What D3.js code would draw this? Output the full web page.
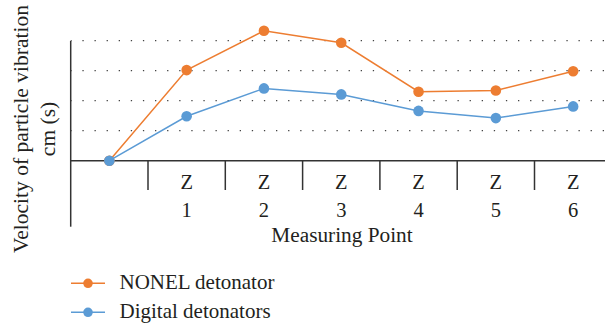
<!DOCTYPE html>
<html><head><meta charset="utf-8">
<script src="https://cdn.jsdelivr.net/npm/d3@7"></script>
<style>body{margin:0;background:#fff}svg{display:block}text{font-family:"Liberation Serif","DejaVu Serif",serif;fill:#231f20}</style>
</head><body><div id="c"></div>
<script>
const categories = ["", "1", "2", "3", "4", "5", "6"];
const catPrefix = "Z";
const nonel = [0, 3.02, 4.33, 3.93, 2.3, 2.34, 2.98];
const digital = [0, 1.48, 2.41, 2.21, 1.66, 1.42, 1.81];
const gridTicks = [1, 2, 3, 4];
const seriesNames = ["NONEL detonator", "Digital detonators"];
const colors = ["#ED7D31", "#5B9BD5"];

const W = 605, H = 323;
const svg = d3.select("#c").append("svg").attr("width", W).attr("height", H);
const x = d3.scaleBand().domain(categories).range([70.7, 70.7 + 7 * 77.3]).padding(0);
const y = d3.scaleLinear().domain([0, 4]).range([160.7, 40.7]);
const cx = c => x(c) + x.bandwidth() / 2;

// gridlines
svg.append("g").selectAll("line").data(gridTicks).join("line")
  .attr("x1", 71).attr("x2", W).attr("y1", d => y(d)).attr("y2", d => y(d))
  .attr("stroke", "#444").attr("stroke-width", 1.3)
  .attr("stroke-dasharray", "1.3,10.8").attr("stroke-dashoffset", -11.4);

// baseline
svg.append("line").attr("x1", 70.7).attr("x2", W).attr("y1", y(0)).attr("y2", y(0))
  .attr("stroke", "#333").attr("stroke-width", 1.5);
// y axis
svg.append("line").attr("x1", 70.7).attr("x2", 70.7).attr("y1", y(4)).attr("y2", 226.7)
  .attr("stroke", "#333").attr("stroke-width", 1.5);
// dividers
svg.append("g").selectAll("line").data(categories.slice(1)).join("line")
  .attr("x1", d => x(d)).attr("x2", d => x(d)).attr("y1", y(0)).attr("y2", 190)
  .attr("stroke", "#333").attr("stroke-width", 1.5);
// category labels
const lab = svg.append("g").selectAll("g").data(categories.slice(1)).join("g");
lab.append("text").attr("x", cx).attr("y", 189.3).attr("text-anchor", "middle")
  .attr("font-size", 20.5).text(catPrefix);
lab.append("text").attr("x", cx).attr("y", 217).attr("text-anchor", "middle")
  .attr("font-size", 20.5).text(d => d);

svg.append("text").attr("x", 342).attr("y", 242).attr("text-anchor", "middle")
  .attr("font-size", 21.3).text("Measuring Point");

const yl = svg.append("text").attr("transform", "translate(0,129) rotate(-90)")
  .attr("text-anchor", "middle").attr("font-size", 21.5);
yl.append("tspan").attr("x", 0).attr("y", 28).text("Velocity of particle vibration");
yl.append("tspan").attr("x", 0).attr("y", 54.5).text("cm (s)");

const line = d3.line().x((d, i) => cx(categories[i])).y(d => y(d));
[nonel, digital].forEach((s, k) => {
  svg.append("path").datum(s).attr("d", line).attr("fill", "none")
    .attr("stroke", colors[k]).attr("stroke-width", 1.5);
  svg.append("g").selectAll("circle").data(s).join("circle")
    .attr("cx", (d, i) => cx(categories[i])).attr("cy", d => y(d)).attr("r", 5.3)
    .attr("fill", colors[k]);
});
// legend
const leg = svg.append("g").selectAll("g").data(seriesNames).join("g")
  .attr("transform", (d, i) => `translate(71,${283.3 + i * 29})`);
leg.append("line").attr("x1", 0).attr("x2", 34).attr("stroke", (d, i) => colors[i]).attr("stroke-width", 1.5);
leg.append("circle").attr("cx", 17).attr("r", 4.8).attr("fill", (d, i) => colors[i]);
leg.append("text").attr("x", 48.5).attr("y", 5.8).attr("font-size", 21).text(d => d);
</script></body></html>
